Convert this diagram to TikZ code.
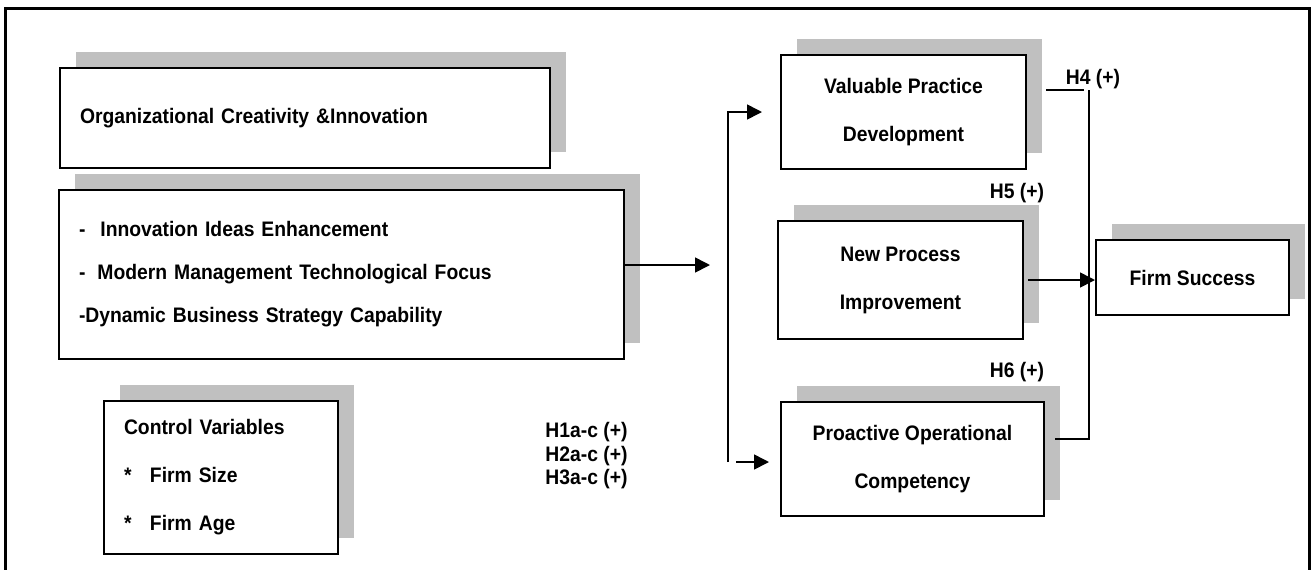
\documentclass[tikz,border=0pt]{standalone}
\usepackage{fontspec}
\setmainfont{Liberation Sans}[FakeStretch=0.92]
\usetikzlibrary{arrows.meta,shadows}
\definecolor{shade}{RGB}{192,192,192}
\tikzset{>={Triangle[length=7.5pt,width=7.5pt]},
  every node/.style={font=\fontsize{10.5}{24}\selectfont\bfseries},
  box/.style={draw,line width=1pt,fill=white,align=center,
    drop shadow={shadow xshift=8pt,shadow yshift=8pt,fill=shade,opacity=1}},
  lbox/.style={box,align=left,inner xsep=10pt},
  flow/.style={line width=.8pt,->},edge/.style={line width=.8pt}}

\begin{document}
\begin{tikzpicture}[x=.5pt,y=-.5pt]
\useasboundingbox (0,0) rectangle (1313,569);
\draw[line width=1.5pt] (5,580)--(5,8)--(1309,8)--(1309,580);
% left side
\node[lbox,text width=225pt,minimum height=50pt] (oci) at (305,118) {Organizational Creativity \&Innovation};
\node[lbox,text width=262.5pt,minimum height=84.5pt,font=\fontsize{10.5}{21.5}\selectfont\bfseries] (dims) at (341.5,274.5)
  {-\hspace{7.5pt}Innovation Ideas Enhancement\\-\hspace{6pt}Modern Management Technological Focus\\-Dynamic Business Strategy Capability};
\node[lbox,text width=97pt,minimum height=76.5pt] (ctrl) at (221,477.5)
  {Control Variables\\\makebox[13pt][l]{*}Firm Size\\\makebox[13pt][l]{*}Firm Age};
\node[align=left,font=\fontsize{10.5}{11.75}\selectfont\bfseries] (hyp) at (586.5,456) {H1a-c (+)\\H2a-c (+)\\H3a-c (+)};
% outcomes
\node[box,minimum width=122.5pt,minimum height=57pt] (vpd) at (903.5,112) {Valuable Practice\\Development};
\node[box,minimum width=122.5pt,minimum height=59pt] (npi) at (900.5,280) {New Process\\Improvement};
\node[box,minimum width=131.5pt,minimum height=57pt] (poc) at (912.5,459) {Proactive Operational\\Competency};
\node[box,minimum width=96.5pt,minimum height=37.5pt] (fs) at (1192.5,277.5) {Firm Success};
\node (h4) at (1093,79) {H4 (+)};
\node (h5) at (1017,193) {H5 (+)};
\node (h6) at (1017,372) {H6 (+)};
% connectors
\coordinate (mid) at (710,265);\coordinate (split) at (728,462);\coordinate (bus) at (1089,90);
\draw[flow] (dims.east |- mid)--(mid);
\draw[flow,shorten >=9pt] (split) |- (vpd.west);
\draw[flow,shorten <=4pt,shorten >=5.5pt] (split)--(split -| poc.west);
\draw[edge,shorten <=9.5pt,shorten >=2.5pt] (vpd.east |- bus)--(bus);
\draw[edge,shorten >=5pt] (bus) |- ([yshift=10pt]poc.east);
\draw[flow,shorten <=2pt] (npi.east)--(npi.east -| fs.west);
\end{tikzpicture}
\end{document}
